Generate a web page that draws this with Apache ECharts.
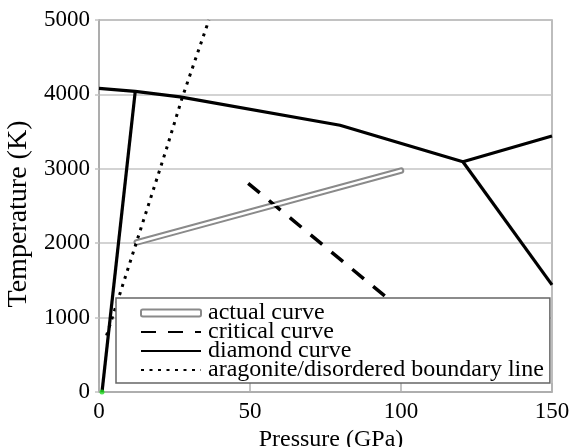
<!DOCTYPE html>
<html><head><meta charset="utf-8">
<script src="https://cdn.jsdelivr.net/npm/echarts@6/dist/echarts.min.js"></script>
<style>html,body{margin:0;padding:0;background:#fff}#c{width:569px;height:447px}</style>
</head><body><div id="c"></div>
<script>
// ---- data ----
const xTicks = [0, 50, 100, 150];
const yTicks = [0, 1000, 2000, 3000, 4000, 5000];
const legendNames = ['actual curve', 'critical curve', 'diamond curve', 'aragonite/disordered boundary line'];
const actualCurve = [[12.5, 2010], [100, 2975]];
const criticalCurve = [[49.4, 2805], [100, 1110]];
const diamondMelting = [[0, 4080], [12, 4040], [26.8, 3966], [79.8, 3586], [120.5, 3095], [150, 3440]];
const diamondLowerBranch = [[120.5, 3095], [150, 1440]];
const diamondSteep = [[12, 4040], [1, 0]];
const aragoniteBoundary = [[2.5, 760], [12.3, 2000], [22.2, 3250], [27.5, 3950], [36.4, 5000]];
const originMarker = [[1, 0]];

const FONT = 'Liberation Serif';
const chart = echarts.init(document.getElementById('c'), null, {renderer: 'canvas'});

const solid = {color: '#000', width: 3.2, type: 'solid'};
const noSymbol = {opacity: 0, color: 'transparent', borderWidth: 0};
chart.setOption({
  animation: false,
  backgroundColor: '#fff',
  grid: {left: 99, right: 17, top: 20, bottom: 55, containLabel: false, outerBoundsMode: 'none',
    show: true, borderColor: '#a8a8a8', borderWidth: 1.5, backgroundColor: 'transparent'},
  xAxis: {
    type: 'value', min: xTicks[0], max: xTicks[xTicks.length - 1], interval: xTicks[1] - xTicks[0],
    name: 'Pressure (GPa)', nameLocation: 'middle', nameGap: 29,
    nameTextStyle: {fontFamily: FONT, fontSize: 24, color: '#000', padding: [0, 0, 0, 11]},
    axisLine: {show: true, lineStyle: {color: '#a8a8a8', width: 1.5}},
    axisTick: {show: true, inside: true, length: 9, lineStyle: {color: '#b0b0b0', width: 1.5}},
    axisLabel: {fontFamily: FONT, fontSize: 23, color: '#000', margin: 8, formatter: v => String(v)},
    splitLine: {show: false}
  },
  yAxis: {
    type: 'value', min: yTicks[0], max: yTicks[yTicks.length - 1], interval: yTicks[1] - yTicks[0],
    name: 'Temperature (K)', nameLocation: 'middle', nameGap: 60,
    nameTextStyle: {fontFamily: FONT, fontSize: 28, color: '#000', padding: [0, 16, 0, 0]},
    axisLine: {show: true, lineStyle: {color: '#a8a8a8', width: 1.5}},
    axisTick: {show: true, inside: false, length: 4, lineStyle: {color: '#c4c4c4', width: 1.5}},
    axisLabel: {fontFamily: FONT, fontSize: 23, color: '#000', margin: 9, formatter: v => String(v)},
    splitLine: {show: true, lineStyle: {color: '#c4c4c4', width: 1.5}}
  },
  legend: {
    left: 116, top: 298, orient: 'vertical',
    padding: [3, 6, 1, 24], itemGap: -5, itemWidth: 60, itemHeight: 7,
    backgroundColor: '#fff', borderColor: '#666', borderWidth: 1.5, borderRadius: 0,
    textStyle: {fontFamily: FONT, fontSize: 24, color: '#000', padding: [0, 0, 0, 2]},
    data: [
      {name: legendNames[0], icon: 'roundRect', itemStyle: {color: '#fff', borderColor: '#8a8a8a', borderWidth: 2}},
      {name: legendNames[1], itemStyle: noSymbol},
      {name: legendNames[2], itemStyle: noSymbol},
      {name: legendNames[3], itemStyle: noSymbol}
    ]
  },
  series: [
    {name: legendNames[0], type: 'line', data: actualCurve, symbol: 'none', z: 3,
      lineStyle: {color: '#8a8a8a', width: 6.5, cap: 'round'}, itemStyle: {color: '#8a8a8a'}},
    {name: 'actual-inner', type: 'line', data: actualCurve, symbol: 'none', z: 4, silent: true,
      lineStyle: {color: '#fff', width: 2.5, cap: 'round'}},
    {name: legendNames[1], type: 'line', data: criticalCurve, symbol: 'none', z: 3,
      lineStyle: {color: '#000', width: 3.5, type: [15, 12]}, itemStyle: {color: '#000'}},
    {name: legendNames[2], type: 'line', data: diamondMelting, symbol: 'none', z: 5,
      lineStyle: solid, itemStyle: {color: '#000'}},
    {name: legendNames[2], type: 'line', data: diamondLowerBranch, symbol: 'none', z: 5,
      lineStyle: solid, itemStyle: {color: '#000'}},
    {name: legendNames[2], type: 'line', data: diamondSteep, symbol: 'none', z: 5,
      lineStyle: solid, itemStyle: {color: '#000'}},
    {name: legendNames[3], type: 'line', data: aragoniteBoundary, symbol: 'none', z: 3,
      lineStyle: {color: '#000', width: 3, type: [3, 5.5]}, itemStyle: {color: '#000'}},
    {name: 'origin', type: 'scatter', data: originMarker, symbolSize: 5, z: 6, silent: true,
      itemStyle: {color: '#22dd22'}}
  ]
});
</script></body></html>
